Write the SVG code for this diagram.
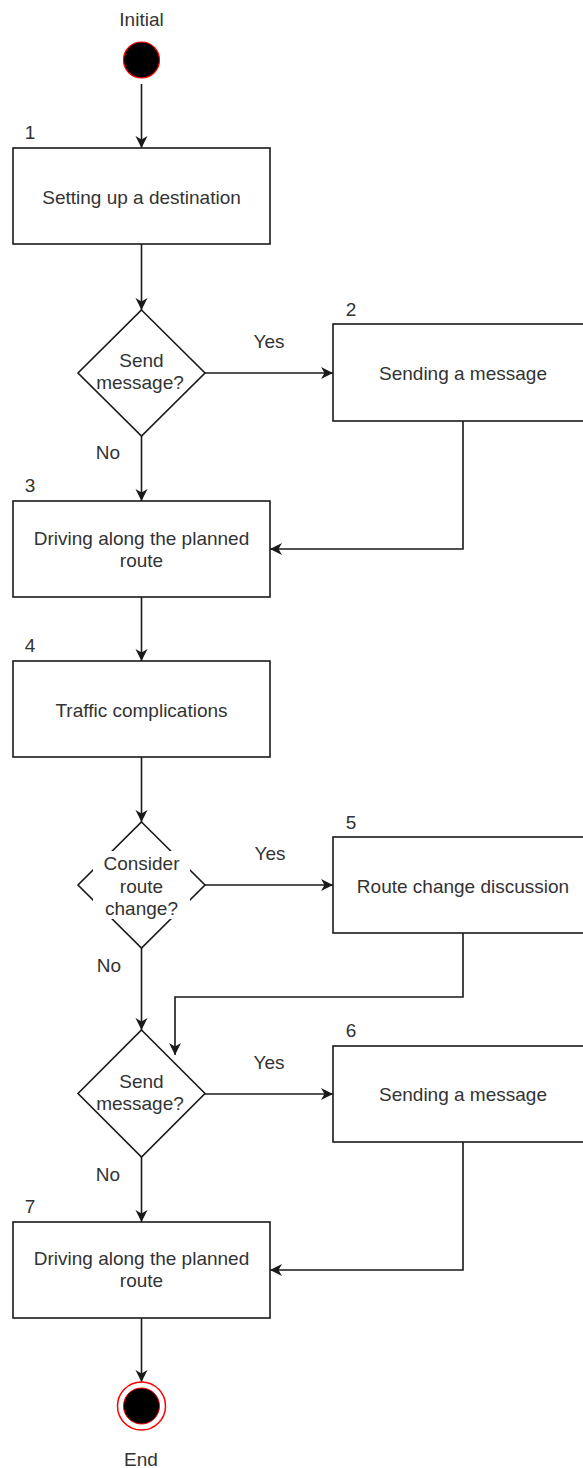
<svg xmlns="http://www.w3.org/2000/svg" width="583" height="1468" viewBox="0 0 583 1468">
<style>
text{font-family:"Liberation Sans",Arial,sans-serif;font-size:19px;fill:#333;}
.c{text-anchor:middle;}
.box{fill:#fff;stroke:#1a1a1a;stroke-width:1.6;}
.edge{fill:none;stroke:#1a1a1a;stroke-width:1.6;marker-end:url(#arr);}
</style>
<defs>
<marker id="arr" markerUnits="userSpaceOnUse" markerWidth="13" markerHeight="13" viewBox="0 0 13 13" refX="12" refY="6.5" orient="auto">
<path d="M0,0.5 L12,6.5 L0,12.5 L3.5,6.5 z" fill="#1a1a1a"/>
</marker>
</defs>
<rect width="583" height="1468" fill="#fff"/>
<g id="connectors">
<path class="edge" d="M141.5,84 V148"/>
<path class="edge" d="M141.5,244 V310"/>
<path class="edge" d="M205,373 H333"/>
<path class="edge" d="M141.5,436 V501"/>
<path class="edge" d="M463,421 V549 H270"/>
<path class="edge" d="M141.5,597 V661"/>
<path class="edge" d="M141.5,757 V822"/>
<path class="edge" d="M205,885 H333"/>
<path class="edge" d="M141.5,948 V1030"/>
<path class="edge" d="M463,933 V997 H175 V1055"/>
<path class="edge" d="M205,1094 H333"/>
<path class="edge" d="M141.5,1157 V1222"/>
<path class="edge" d="M463,1142 V1270 H270"/>
<path class="edge" d="M141.5,1318 V1382"/>
<text class="c" x="269" y="348">Yes</text>
<text class="c" x="108" y="459">No</text>
<text class="c" x="270" y="860">Yes</text>
<text class="c" x="109" y="972">No</text>
<text class="c" x="269" y="1069">Yes</text>
<text class="c" x="108" y="1181">No</text>
</g>
<g id="initial">
<text class="c" x="141.5" y="26">Initial</text>
<circle cx="141.5" cy="60" r="18" fill="#000" stroke="#ff0000" stroke-width="1.2"/>
</g>
<g id="n1">
<rect class="box" x="13" y="148" width="257" height="96"/>
<text class="c" x="30" y="139">1</text>
<text class="c" x="141.5" y="204">Setting up a destination</text>
</g>
<g id="d1">
<polygon class="box" points="141.5,310 205,373 141.5,436 78,373"/>
<text class="c" x="141.5" y="367">Send</text>
<text class="c" x="140" y="389">message?</text>
</g>
<g id="n2">
<rect class="box" x="333" y="324" width="262" height="97"/>
<text class="c" x="351" y="316">2</text>
<text class="c" x="463" y="380">Sending a message</text>
</g>
<g id="n3">
<rect class="box" x="13" y="501" width="257" height="96"/>
<text class="c" x="30" y="492">3</text>
<text class="c" x="141.5" y="545">Driving along the planned</text>
<text class="c" x="141.5" y="567">route</text>
</g>
<g id="n4">
<rect class="box" x="13" y="661" width="257" height="96"/>
<text class="c" x="30" y="652">4</text>
<text class="c" x="141.5" y="717">Traffic complications</text>
</g>
<g id="d2">
<polygon class="box" points="141.5,822 205,885 141.5,948 78,885"/>
<rect x="93" y="851" width="97" height="68" fill="#fff"/>
<text class="c" x="141.5" y="870">Consider</text>
<text class="c" x="141.5" y="892.5">route</text>
<text class="c" x="141.5" y="915">change?</text>
</g>
<g id="n5">
<rect class="box" x="333" y="837" width="262" height="96"/>
<text class="c" x="351" y="829">5</text>
<text class="c" x="463" y="893">Route change discussion</text>
</g>
<g id="d3">
<polygon class="box" points="141.5,1030 205,1093.5 141.5,1157 78,1093.5"/>
<text class="c" x="141.5" y="1088">Send</text>
<text class="c" x="140" y="1110">message?</text>
</g>
<g id="n6">
<rect class="box" x="333" y="1046" width="262" height="96"/>
<text class="c" x="351" y="1037">6</text>
<text class="c" x="463" y="1101">Sending a message</text>
</g>
<g id="n7">
<rect class="box" x="13" y="1222" width="257" height="96"/>
<text class="c" x="30" y="1213">7</text>
<text class="c" x="141.5" y="1265">Driving along the planned</text>
<text class="c" x="141.5" y="1287">route</text>
</g>
<g id="end">
<circle cx="141.5" cy="1406" r="24" fill="#fff" stroke="#ff0000" stroke-width="1.5"/>
<circle cx="141.5" cy="1406" r="18" fill="#000" stroke="#ff0000" stroke-width="1"/>
<text class="c" x="141" y="1466">End</text>
</g>
</svg>
